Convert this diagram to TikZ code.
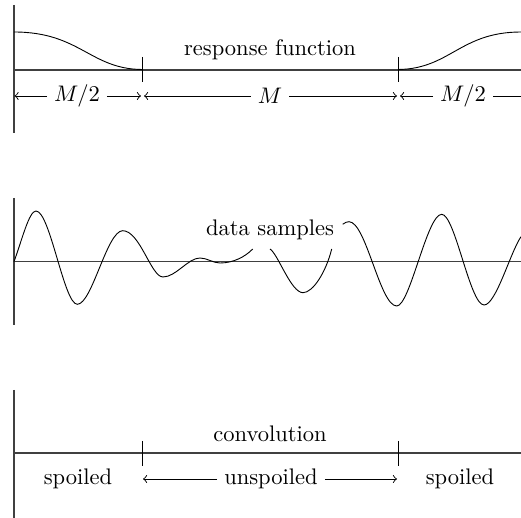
\documentclass[tikz,border=0pt]{standalone}
\usetikzlibrary{arrows}
\begin{document}
\begin{tikzpicture}[x=0.444pt,y=-0.444pt,>=to,
  axis/.style={draw=black!75,line width=0.5pt},
  curve/.style={draw=black,line width=0.4pt},
  tick/.style={draw=black,line width=0.4pt},
  lab/.style={inner sep=1pt},
  dlab/.style={inner sep=3pt},
  dim/.style={draw=black,line width=0.4pt,->}]
\useasboundingbox (0,0) rectangle (521,518);
% ---------- panel 1 ----------
\coordinate (a1t) at (14,5); \coordinate (a1b) at (14,133);
\coordinate (h1l) at (14,70); \coordinate (h1r) at (521,70);
\draw[axis] (a1t) -- (a1b);
\draw[axis] (h1l) -- (h1r);
\coordinate (t1a) at (142,57); \coordinate (t1b) at (142,82);
\coordinate (t2a) at (398,57); \coordinate (t2b) at (398,82);
\draw[tick] (t1a) -- (t1b);
\draw[tick] (t2a) -- (t2b);
\draw[curve] (14,32) .. controls (80,32) and (90,69) .. (142,69.5);
\draw[curve] (398,69.5) .. controls (450,69) and (460,32) .. (521,32);
\node[lab] (resp) at (270,50) {response function};
\node[dlab] (m2a) at (77,96) {$M/2$};
\node[dlab] (mm) at (270,96) {$M$};
\node[dlab] (m2b) at (463,96) {$M/2$};
\coordinate (d0) at (14.5,96); \coordinate (d1l) at (141,96); \coordinate (d1r) at (144,96);
\coordinate (d2l) at (397,96); \coordinate (d2r) at (400,96); \coordinate (d3) at (521,96);
\draw[dim] (m2a.west) -- (d0);
\draw[dim] (m2a.east) -- (d1l);
\draw[dim] (mm.west) -- (d1r);
\draw[dim] (mm.east) -- (d2l);
\draw[dim] (m2b.west) -- (d2r);
\draw[curve] (m2b.east) -- (d3);
% ---------- panel 2 ----------
\coordinate (a2t) at (14,198); \coordinate (a2b) at (14,325);
\coordinate (h2l) at (14,261.7); \coordinate (h2r) at (521,261.7);
\draw[axis] (a2t) -- (a2b);
\draw[axis] (h2l) -- (h2r);
\draw[curve] (14,261.7) .. controls (22,240) and (29,211) .. (36,211)
  .. controls (50,211) and (64,304.3) .. (77.3,304.3)
  .. controls (92,304.3) and (107,230.7) .. (122.7,230.7)
  .. controls (140,230.7) and (151,277) .. (163,277)
  .. controls (176,277) and (188,258) .. (200,258)
  .. controls (207,258) and (213,263) .. (220,263)
  .. controls (233,263) and (245,257) .. (252.7,249);
\draw[curve] (270,249) .. controls (278,254) and (291,292.7) .. (303,292.7)
  .. controls (313,292.7) and (326,272) .. (331.7,249);
\draw[curve] (342.7,224.3) .. controls (345,222.5) and (347,221.7) .. (349,221.7)
  .. controls (366,221.7) and (380,306) .. (396.7,306)
  .. controls (410,306) and (427,214.3) .. (441.7,214.3)
  .. controls (455,214.3) and (470,305) .. (484,305)
  .. controls (496,305) and (510,253) .. (521,236.7);
\node[lab] (data) at (270,230) {data samples};
% ---------- panel 3 ----------
\coordinate (a3t) at (14,390); \coordinate (a3b) at (14,518);
\coordinate (h3l) at (14,453); \coordinate (h3r) at (521,453);
\draw[axis] (a3t) -- (a3b);
\draw[axis] (h3l) -- (h3r);
\coordinate (t3a) at (142,441); \coordinate (t3b) at (142,466);
\coordinate (t4a) at (398,441); \coordinate (t4b) at (398,466);
\draw[tick] (t3a) -- (t3b);
\draw[tick] (t4a) -- (t4b);
\node[lab] (conv) at (270,434) {convolution};
\node[lab] (sp1) at (78,479) {spoiled};
\node[dlab] (unsp) at (271,479) {unspoiled};
\node[lab] (sp2) at (460,479) {spoiled};
\coordinate (u1) at (143,479); \coordinate (u2) at (397,479);
\draw[dim] (unsp.west) -- (u1);
\draw[dim] (unsp.east) -- (u2);
\end{tikzpicture}
\end{document}
